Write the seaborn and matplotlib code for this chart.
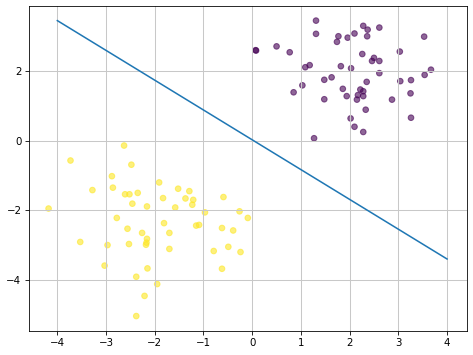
import matplotlib
matplotlib.use("Agg")
import matplotlib.pyplot as plt
import seaborn as sns
import pandas as pd

# class 0 (purple cluster)
x0 = [1.31, 1.31, 2.28, 2.37, 2.61, 3.53, 1.77, 1.74, 1.96, 2.10,
      2.36, 0.08, 0.07, 0.50, 0.77, 2.26, 3.03, 2.50, 2.46, 2.61,
      1.09, 1.18, 1.82, 2.03, 2.61, 3.67, 3.54, 1.48, 1.63, 2.35,
      3.04, 3.26, 1.03, 0.85, 1.86, 2.22, 2.28, 1.94, 2.17, 2.15,
      2.28, 3.25, 1.48, 2.87, 2.33, 3.26, 2.02, 2.10, 2.28, 1.27]
y0 = [3.45, 3.07, 3.30, 3.19, 3.25, 2.99, 3.00, 2.84, 2.96, 3.08,
      3.00, 2.59, 2.60, 2.71, 2.54, 2.49, 2.56, 2.38, 2.29, 2.29,
      2.11, 2.17, 2.14, 2.08, 1.94, 2.04, 1.89, 1.75, 1.82, 1.69,
      1.71, 1.74, 1.59, 1.39, 1.49, 1.47, 1.42, 1.28, 1.31, 1.18,
      1.28, 1.36, 1.19, 1.18, 0.89, 0.66, 0.64, 0.40, 0.25, 0.07]

# class 1 (yellow cluster)
x1 = [-2.63, -3.73, -2.48, -2.88, -2.86, -3.28, -2.61, -2.52, -2.35, -2.46,
      -2.16, -1.91, -1.52, -1.29, -1.83, -1.37, -1.21, -1.23, -1.58, -0.59,
      -4.18, -0.97, -0.26, -0.09, -2.78, -1.81, -2.56, -2.26, -1.70, -1.15,
      -1.09, -0.62, -0.39, -2.16, -2.17, -2.18, -2.53, -3.53, -2.97, -1.70,
      -0.49, -0.79, -0.24, -3.03, -2.15, -0.62, -2.38, -1.95, -2.21, -2.38]
y1 = [-0.14, -0.57, -0.69, -1.02, -1.35, -1.42, -1.54, -1.54, -1.50, -1.81,
      -1.89, -1.20, -1.38, -1.45, -1.65, -1.66, -1.70, -1.84, -1.92, -1.62,
      -1.95, -2.06, -2.03, -2.22, -2.22, -2.37, -2.53, -2.65, -2.65, -2.44,
      -2.42, -2.51, -2.58, -2.82, -2.93, -2.99, -2.97, -2.91, -3.00, -3.11,
      -3.05, -3.17, -3.20, -3.59, -3.67, -3.68, -3.91, -4.12, -4.46, -5.04]

# decision boundary
line_x = [-4.0, 4.0]
line_y = [3.45, -3.40]

df = pd.DataFrame({
    "x": x0 + x1,
    "y": y0 + y1,
    "label": [0] * len(x0) + [1] * len(x1),
})

fig, ax = plt.subplots(figsize=(6.4, 4.8), dpi=74)
sns.scatterplot(data=df, x="x", y="y", hue="label",
                palette={0: "#440154", 1: "#fde725"},
                alpha=0.6, s=30, edgecolor="face", linewidth=1.0,
                legend=False, ax=ax)
sns.lineplot(x=line_x, y=line_y, color="#1f77b4", linewidth=1.5, ax=ax)
ax.set_xlabel("")
ax.set_ylabel("")
ax.grid(True, color="#c8c8c8", linewidth=1.0)

fig.subplots_adjust(left=0.0605, right=0.986, top=0.983, bottom=0.068)
plt.savefig("out.png")
